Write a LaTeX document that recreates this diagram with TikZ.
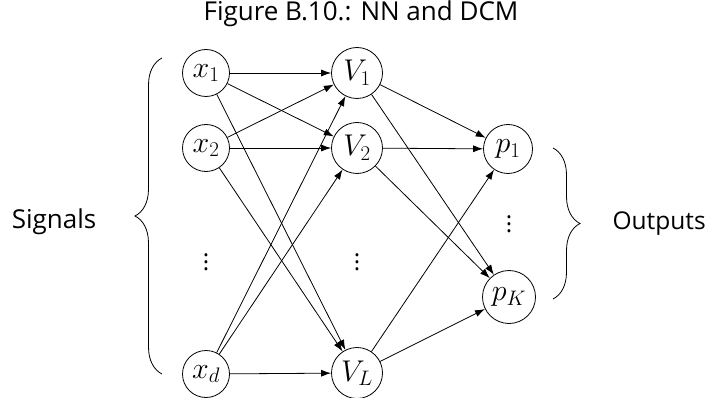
\documentclass[tikz,border=0pt]{standalone}
\usepackage{fix-cm}
\usepackage{fontspec}
\setmainfont{Open Sans}
\usetikzlibrary{arrows.meta,decorations.pathreplacing}
\newcommand{\tallvdots}{\vbox{\baselineskip=6.8pt\lineskiplimit=-10pt\hbox{.}\hbox{.}\hbox{.}}}
\begin{document}
\begin{tikzpicture}[x=1pt,y=-1pt,
 neuron/.style={circle,draw,line width=0.8pt,inner sep=0pt,font=\fontsize{30}{34}\selectfont},
 conn/.style={-{Latex[length=10pt,width=7pt]},line width=0.8pt},
 lbl/.style={font=\fontsize{26}{30}\selectfont},
 dotsl/.style={font=\fontsize{24}{28}\selectfont,inner sep=0pt},
 brc/.style={decorate,decoration={brace,amplitude=27pt},line width=0.8pt}]
\useasboundingbox (0,0) rectangle (709,398);
\node[lbl] (title) at (361,14) {Figure B.10.: NN and DCM};
\node[neuron,minimum size=47pt] (x1) at (206,73) {$x_1$};
\node[neuron,minimum size=47pt] (x2) at (206,148) {$x_2$};
\node[neuron,minimum size=47pt] (xd) at (206,374) {$x_d$};
\node[dotsl] (xdots) at (206,262) {\tallvdots};
\node[neuron,minimum size=51pt] (V1) at (357,73) {$V_1$};
\node[neuron,minimum size=51pt] (V2) at (357,148) {$V_2$};
\node[neuron,minimum size=51pt] (VL) at (357,373) {$V_L$};
\node[dotsl] (vdots) at (357,262) {\tallvdots};
\node[neuron,minimum size=49pt] (p1) at (508,149) {$p_1$};
\node[neuron,minimum size=53pt] (pK) at (509,297) {$p_K$};
\node[dotsl] (pdots) at (509,224) {\tallvdots};
\foreach \i in {x1,x2,xd}{
  \foreach \j in {V1,V2,VL}{
    \draw[conn] (\i) -- (\j);
  }
}
\foreach \i in {V1,V2,VL}{
  \foreach \j in {p1,pK}{
    \draw[conn] (\i) -- (\j);
  }
}
\coordinate (lb1) at (162,374);
\coordinate (lb2) at (162,58);
\draw[brc] (lb1) -- (lb2);
\coordinate (rb1) at (553,148);
\coordinate (rb2) at (553,299);
\draw[brc] (rb1) -- (rb2);
\node[lbl] (signals) at (54,222) {Signals};
\node[lbl,font=\fontsize{24.5}{29}\selectfont,anchor=west] (outputs) at (609,224) {Outputs};
\end{tikzpicture}
\end{document}
